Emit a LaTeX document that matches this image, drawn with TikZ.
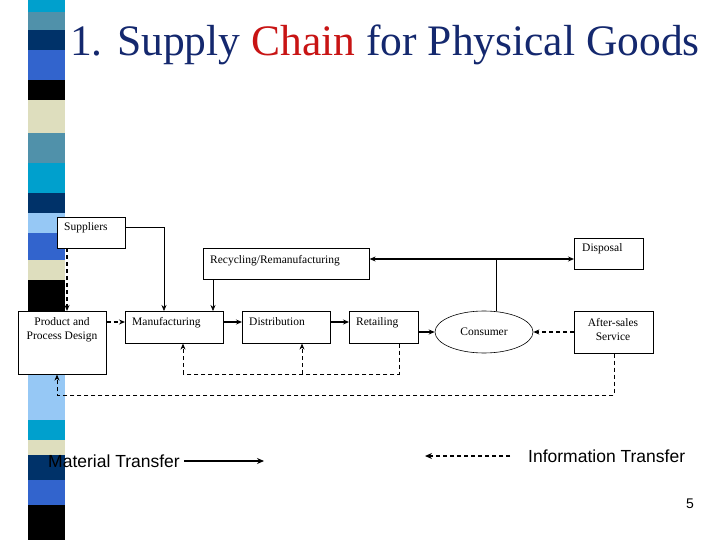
\documentclass[tikz,border=0pt]{standalone}
\usepackage{fontspec}
\setmainfont{Liberation Serif}
\newfontfamily\sansf{Liberation Sans}
\usetikzlibrary{arrows.meta,shapes.geometric}
\definecolor{tnavy}{RGB}{20,40,110}
\definecolor{tred}{RGB}{200,20,20}
\definecolor{scyan}{RGB}{0,160,205}
\definecolor{ssteel}{RGB}{80,145,170}
\definecolor{snavy}{RGB}{0,50,105}
\definecolor{sroyal}{RGB}{50,100,205}
\definecolor{sbeige}{RGB}{222,222,190}
\definecolor{slight}{RGB}{150,200,245}
\tikzset{
 box/.style={draw,line width=0.6pt,fill=white,inner sep=0,anchor=north west},
 lbl/.style={anchor=north west,inner sep=0,font=\fontsize{11.5}{13}\selectfont},
 mat/.style={line width=1.6pt,-{Stealth[length=6pt,width=5pt]}},
 thin/.style={line width=0.6pt,-{Stealth[length=6pt,width=5pt]}},
 inf/.style={line width=1.6pt,dash pattern=on 4pt off 3pt,-{Stealth[length=6pt,width=5pt]}},
 fb/.style={line width=0.7pt,dash pattern=on 4pt off 3pt},
}
\begin{document}
\begin{tikzpicture}[x=1pt,y=-1pt]
\useasboundingbox (0,0) rectangle (720,540);
\fill[white] (0,0) rectangle (720,540);
% strip
\foreach \a/\b/\c in {0/12/scyan,12/30/ssteel,30/50/snavy,50/80/sroyal,80/100/black,100/133/sbeige,133/163/ssteel,163/193/scyan,193/213/snavy,213/233/slight,233/260/sroyal,260/280/sbeige,280/350/black,350/375/snavy,375/420/slight,420/440/scyan,440/455/sbeige,455/480/snavy,480/505/sroyal,505/540/black}
 \fill[\c] (28,\a) rectangle (65,\b);
% title
\node[anchor=west,text=tnavy,font=\fontsize{43.5}{46}\selectfont,inner sep=0] (title) at (70,45) {1. Supply \textcolor{tred}{Chain} for Physical Goods};
% boxes
\node[box,minimum width=68,minimum height=31] (sup) at (57,217) {};
\node[lbl] (supt) at (64,222) {Suppliers};
\node[box,minimum width=166,minimum height=31] (rec) at (203,248) {};
\node[lbl] (rect) at (210,255) {Recycling/Remanufacturing};
\node[box,minimum width=69,minimum height=31] (dis) at (574,238) {};
\node[lbl] (dist) at (582,243) {Disposal};
\node[box,minimum width=88,minimum height=63] (pd) at (18,311) {};
\node[align=center,inner sep=0,font=\fontsize{11.5}{14}\selectfont] (pdt) at (62,330) {Product and\\Process Design};
\node[box,minimum width=98,minimum height=32] (man) at (125,311) {};
\node[lbl] (mant) at (132,317) {Manufacturing};
\node[box,minimum width=88,minimum height=32] (dtr) at (242,311) {};
\node[lbl] (dtrt) at (249,317) {Distribution};
\node[box,minimum width=69,minimum height=32] (ret) at (349,311) {};
\node[lbl] (rett) at (356,317) {Retailing};
\node[draw,ellipse,line width=0.6pt,minimum width=98,minimum height=42,inner sep=0,font=\fontsize{11.5}{13}\selectfont] (con) at (484,332) {Consumer};
\node[box,minimum width=79,minimum height=42] (aft) at (574,311) {};
\node[align=center,inner sep=0,font=\fontsize{11.5}{14}\selectfont] (aftt) at (613,330) {After-sales\\Service};
% connectors
\coordinate (j) at (496,259);
\draw[mat] (j) -- (rec.east|-j);
\draw[mat] (j) -- (dis.west|-j);
\draw[line width=0.6pt] (j) -- (con.north-|j);
\draw[thin] (sup.east|-0,227) -| (man.north-|164,0);
\draw[thin] (rec.south-|213,0) -- (man.north-|213,0);
\draw[inf] (67,248) -- (67,311);
\draw[inf] (pd.east|-0,322) -- (man.west|-0,322);
\draw[mat] (man.east|-0,322) -- (dtr.west|-0,322);
\draw[mat] (dtr.east|-0,322) -- (ret.west|-0,322);
\draw[mat] (ret.east|-con) -- (con.west);
\draw[inf] (aft.west|-con) -- (con.east);
\draw[fb] (ret.south-|399,0) -- (399,374) -- (183,374);
\draw[fb,-{Stealth[length=6pt,width=5pt]}] (183,374) -- (man.south-|183,0);
\draw[fb,-{Stealth[length=6pt,width=5pt]}] (302,374) -- (dtr.south-|302,0);
\draw[fb,-{Stealth[length=6pt,width=5pt]}] (aft.south-|614,0) -- (614,395) -- (57,395) -- (pd.south-|57,0);
% legend
\node[anchor=west,inner sep=0,font=\sansf\fontsize{17.5}{20}\selectfont] (ml) at (48,461) {Material Transfer};
\coordinate (me) at (264,461);
\draw[line width=1.4pt,-{Stealth[length=7pt,width=6pt]}] (ml.east)++(4,0) -- (me);
\coordinate (is) at (510,456);
\coordinate (ie) at (425,456);
\draw[line width=1.2pt,dash pattern=on 4pt off 3pt,-{Stealth[length=7pt,width=6pt]}] (is) -- (ie);
\node[anchor=west,inner sep=0,font=\sansf\fontsize{17.5}{20}\selectfont] (il) at (528,456) {Information Transfer};
\node[anchor=east,inner sep=0,font=\sansf\fontsize{14}{16}\selectfont] (pn) at (694,504) {5};
\end{tikzpicture}
\end{document}
